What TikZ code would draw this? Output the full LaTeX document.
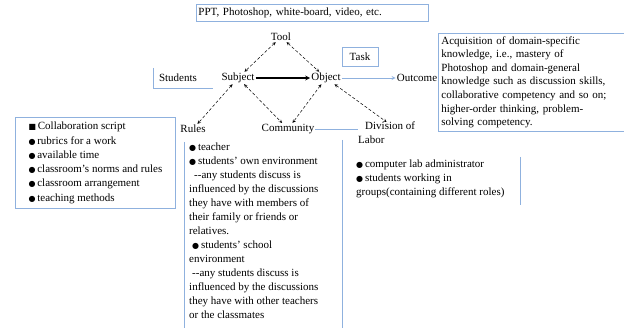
\documentclass[tikz,border=0pt]{standalone}
\usepackage{fontspec}
\setmainfont{Liberation Serif}
\newfontfamily\bulletfont{DejaVu Sans}
\usetikzlibrary{arrows}
\definecolor{boxblue}{RGB}{143,177,222}
\newcommand{\sqb}{{\bulletfont\fontsize{8}{8}\selectfont ■}\,}
\newcommand{\dotb}{{\bulletfont\fontsize{8}{8}\selectfont ●}\,}

\begin{document}
\begin{tikzpicture}[
				x=1pt,y=-1pt,
				font=\fontsize{11}{14}\selectfont]
			\tikzstyle{frame}=[draw=boxblue,line width=0.8pt]
			\tikzstyle{corner node}=[inner sep=1pt]
			\tikzstyle{list node}=[align=left,anchor=north west,inner sep=0pt]
			\tikzstyle{triangle edge}=[densely dashed,<->,>=stealth,line width=0.5pt]
			\useasboundingbox (0,0) rectangle (624,328);
			% mediating artefacts and the triangle
			\node[frame,anchor=north west,text width=228,inner xsep=2pt,minimum height=17,align=left] (artefacts) at (196,4) {PPT, Photoshop, white-board, video, etc.};
			\node[corner node] (tool) at (281,37) {Tool};
			\node[frame,minimum width=36,minimum height=19,inner sep=1pt] (task) at (360,56.5) {Task};
			\node[corner node] (students) at (178,78) {Students};
			\node[corner node] (subject) at (238,78) {Subject};
			\node[corner node] (object) at (326,78) {Object};
			\node[corner node] (outcome) at (417,78) {Outcome};
			\node[corner node] (rules) at (193,129) {Rules};
			\node[corner node] (community) at (288,129) {Community};
			\node[list node] (division) at (358,122) {\hspace*{7pt}Division of\\Labor};
			\draw[triangle edge] (tool) -- (subject);
			\draw[triangle edge] (tool) -- (object);
			\draw[triangle edge] (subject) -- (rules);
			\draw[triangle edge] (subject) -- (community);
			\draw[triangle edge] (object) -- (community);
			\draw[triangle edge] (object) -- (division.north);
			\draw[line width=1.2pt,->,>=stealth] (subject) -- (object);
			\draw[boxblue,line width=0.8pt,->,>=stealth] (object) -- (outcome);
			\draw[boxblue,line width=0.8pt] (community.east) -- (community.east -| division.west);
			% open frames
			\draw[frame] (153,68) -- (153,88) -- (213,88);
			\draw[frame] (184,142) -- (184,328);
			\draw[frame] (342,140) -- (342,328);
			\draw[frame] (520,157) -- (520,205);
			% texts of the corners
			\node[frame,list node,text width=181,inner sep=3pt,font=\fontsize{11}{13.6}\selectfont] (gains) at (438,33) {Acquisition of domain-specific\\knowledge, i.e., mastery of\\Photoshop and domain-general\\knowledge such as discussion skills,\\collaborative competency and so on;\\higher-order thinking, problem-\\solving competency.};
			\node[frame,list node,minimum width=160,minimum height=91,inner sep=4pt,font=\fontsize{11}{14.3}\selectfont] (rulelist) at (15,117) {\sqb Collaboration script\\\dotb rubrics for a work\\\dotb available time\\\dotb classroom's norms and rules\\\dotb classroom arrangement\\\dotb teaching methods};
			\node[list node] (members) at (189,143) {\dotb teacher\\\dotb students' own environment\\\hspace*{5pt}-{}-any students discuss is\\influenced by the discussions\\they have with members of\\their family or friends or\\relatives.\\\hspace*{3pt}\dotb students' school\\environment\\\hspace*{3pt}-{}-any students discuss is\\influenced by the discussions\\they have with other teachers\\or the classmates};
			\node[list node] (roles) at (356,160) {\dotb computer lab administrator\\\dotb students working in\\groups(containing different roles)};
		\end{tikzpicture}
\end{document}
